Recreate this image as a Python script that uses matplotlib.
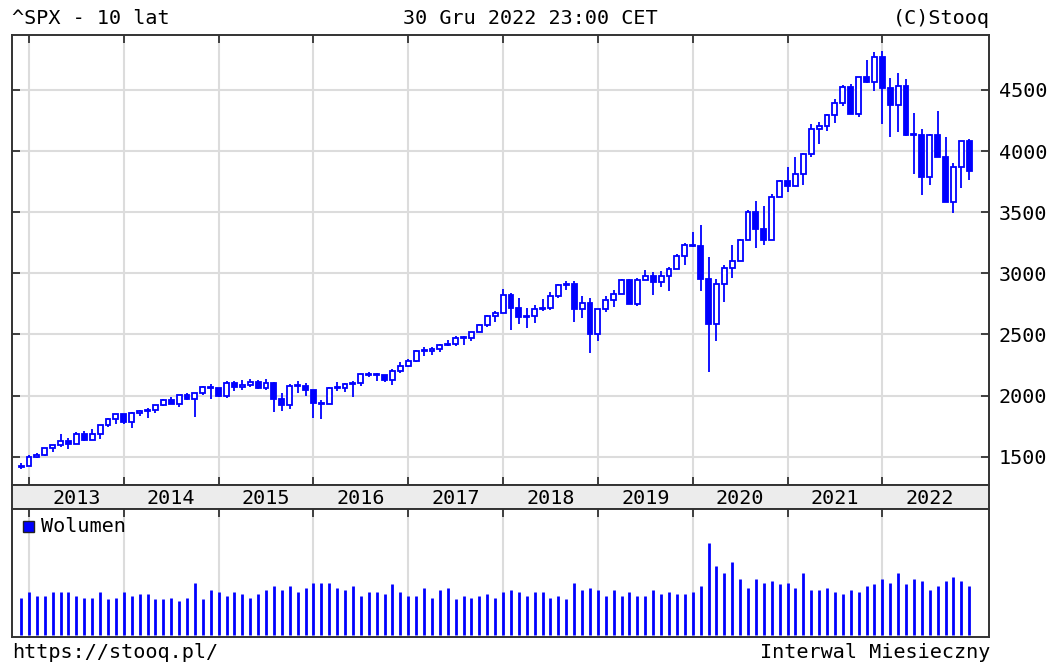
import matplotlib
matplotlib.use("Agg")
import matplotlib.pyplot as plt
import numpy as np

# monthly candles, Dec 2012 .. Dec 2022 (121 months)
opens = [1416.2,
         1426.2, 1498.1, 1514.7, 1569.2, 1597.6, 1630.7, 1606.3, 1685.7, 1633.0, 1681.6, 1756.5, 1805.8,
         1848.4, 1782.6, 1859.5, 1872.3, 1884.0, 1923.6, 1960.2, 1930.7, 2003.4, 1972.3, 2018.1, 2067.6,
         2058.9, 1995.0, 2104.5, 2067.9, 2085.5, 2107.4, 2063.1, 2103.8, 1972.2, 1920.0, 2079.4, 2080.4,
         2043.9, 1940.2, 1932.2, 2059.7, 2065.3, 2097.0, 2098.9, 2173.6, 2171.0, 2168.3, 2126.2, 2198.8,
         2238.8, 2278.9, 2363.6, 2362.7, 2384.2, 2411.8, 2423.4, 2470.3, 2471.7, 2519.4, 2575.3, 2647.6,
         2673.6, 2823.8, 2713.8, 2640.9, 2648.1, 2705.3, 2718.4, 2816.3, 2901.5, 2914.0, 2711.7, 2760.2,
         2506.9, 2704.1, 2784.5, 2834.4, 2945.8, 2752.1, 2941.8, 2980.4, 2926.5, 2976.7, 3037.6, 3141.0,
         3230.8, 3225.5, 2954.2, 2584.6, 2912.4, 3044.3, 3100.3, 3271.1, 3500.3, 3363.0, 3270.0, 3621.6,
         3756.1, 3714.2, 3811.2, 3972.9, 4181.2, 4204.1, 4297.5, 4395.3, 4522.7, 4307.5, 4605.4, 4567.0,
         4766.2, 4515.6, 4373.9, 4530.4, 4131.9, 4132.2, 3785.4, 4130.3, 3955.0, 3585.6, 3872.0, 4080.1]
highs = [1448.0,
         1509.9, 1530.9, 1570.3, 1597.6, 1687.2, 1654.2, 1698.0, 1709.7, 1729.9, 1759.8, 1813.6, 1849.4,
         1850.8, 1867.9, 1884.0, 1897.3, 1924.0, 1968.2, 1991.4, 2005.0, 2019.3, 2018.2, 2075.8, 2093.6,
         2064.4, 2119.6, 2117.5, 2125.9, 2134.7, 2129.9, 2132.8, 2112.7, 2021.0, 2094.3, 2116.5, 2104.3,
         2038.2, 1963.0, 2072.2, 2111.0, 2103.5, 2120.5, 2177.1, 2193.8, 2187.9, 2169.6, 2214.1, 2277.5,
         2301.0, 2371.5, 2401.0, 2398.2, 2418.7, 2453.8, 2484.0, 2490.9, 2519.4, 2583.0, 2657.7, 2695.0,
         2872.9, 2836.0, 2801.9, 2717.5, 2742.2, 2791.5, 2848.0, 2916.5, 2940.9, 2939.9, 2815.2, 2800.2,
         2709.0, 2813.5, 2860.3, 2949.5, 2954.1, 2964.2, 3028.0, 3013.6, 3022.0, 3050.1, 3154.3, 3247.9,
         3337.8, 3393.5, 3136.7, 2954.9, 3068.7, 3233.1, 3280.0, 3514.8, 3588.1, 3549.9, 3646.0, 3760.2,
         3870.9, 3950.4, 3983.9, 4218.8, 4238.0, 4302.4, 4430.0, 4537.4, 4545.9, 4608.1, 4743.8, 4808.9,
         4818.6, 4595.3, 4637.3, 4593.5, 4307.7, 4177.5, 4140.2, 4325.3, 4119.3, 3905.4, 4080.1, 4101.0]
lows = [1398.1,
        1426.2, 1485.0, 1501.5, 1536.0, 1581.3, 1560.3, 1604.6, 1627.5, 1633.4, 1646.5, 1746.2, 1768.0,
        1770.5, 1737.9, 1834.4, 1814.4, 1859.8, 1916.0, 1930.7, 1904.8, 1964.0, 1820.7, 2001.0, 1972.6,
        1988.4, 1980.9, 2039.7, 2048.4, 2067.9, 2056.3, 2044.0, 1867.0, 1871.9, 1893.7, 2019.4, 1993.3,
        1812.3, 1810.1, 1937.1, 2033.8, 2025.9, 1991.7, 2074.0, 2147.6, 2119.1, 2114.7, 2083.8, 2187.4,
        2233.6, 2271.7, 2322.3, 2329.0, 2352.7, 2405.7, 2407.7, 2417.4, 2446.6, 2520.4, 2557.5, 2605.5,
        2682.4, 2532.7, 2585.9, 2553.8, 2594.6, 2692.0, 2699.0, 2795.1, 2864.1, 2603.5, 2631.1, 2346.6,
        2444.0, 2681.8, 2722.3, 2848.6, 2750.5, 2728.8, 2952.2, 2822.1, 2891.9, 2855.9, 3050.7, 3070.3,
        3214.6, 2855.8, 2191.9, 2447.5, 2766.6, 2965.7, 3101.2, 3284.5, 3209.5, 3233.9, 3279.7, 3633.4,
        3662.7, 3725.6, 3723.3, 3955.3, 4056.9, 4164.4, 4233.1, 4367.7, 4305.9, 4278.9, 4560.0, 4495.1,
        4222.6, 4114.7, 4157.9, 4124.3, 3810.3, 3636.9, 3721.6, 3954.5, 3584.1, 3491.6, 3698.2, 3764.5]
closes = [1426.2,
          1498.1, 1514.7, 1569.2, 1597.6, 1630.7, 1606.3, 1685.7, 1633.0, 1681.6, 1756.5, 1805.8, 1848.4,
          1782.6, 1859.5, 1872.3, 1884.0, 1923.6, 1960.2, 1930.7, 2003.4, 1972.3, 2018.1, 2067.6, 2058.9,
          1995.0, 2104.5, 2067.9, 2085.5, 2107.4, 2063.1, 2103.8, 1972.2, 1920.0, 2079.4, 2080.4, 2043.9,
          1940.2, 1932.2, 2059.7, 2065.3, 2097.0, 2098.9, 2173.6, 2171.0, 2168.3, 2126.2, 2198.8, 2238.8,
          2278.9, 2363.6, 2362.7, 2384.2, 2411.8, 2423.4, 2470.3, 2471.7, 2519.4, 2575.3, 2647.6, 2673.6,
          2823.8, 2713.8, 2640.9, 2648.1, 2705.3, 2718.4, 2816.3, 2901.5, 2914.0, 2711.7, 2760.2, 2506.9,
          2704.1, 2784.5, 2834.4, 2945.8, 2752.1, 2941.8, 2980.4, 2926.5, 2976.7, 3037.6, 3141.0, 3230.8,
          3225.5, 2954.2, 2584.6, 2912.4, 3044.3, 3100.3, 3271.1, 3500.3, 3363.0, 3270.0, 3621.6, 3756.1,
          3714.2, 3811.2, 3972.9, 4181.2, 4204.1, 4297.5, 4395.3, 4522.7, 4307.5, 4605.4, 4567.0, 4766.2,
          4515.6, 4373.9, 4530.4, 4131.9, 4132.2, 3785.4, 4130.3, 3955.0, 3585.6, 3872.0, 4080.1, 3839.5]
# volume, relative units
volume = [37.7, 43.3, 39.7, 39.7, 43.3, 43.3, 43.3, 39.7, 37.7, 37.7, 43.3, 36.0,
          37.7, 43.3, 39.7, 41.7, 41.7, 36.0, 36.0, 37.7, 34.0, 37.7, 52.7, 36.0,
          45.0, 43.3, 39.7, 43.3, 41.7, 37.7, 41.7, 45.0, 49.0, 45.0, 49.0, 43.3,
          47.3, 52.7, 52.7, 52.7, 47.3, 45.0, 49.0, 39.7, 43.3, 43.3, 41.7, 51.0,
          43.3, 39.7, 39.7, 47.3, 37.7, 45.0, 47.3, 36.0, 39.7, 37.7, 39.7, 41.7,
          37.7, 43.3, 45.0, 43.3, 39.7, 43.3, 43.3, 37.7, 39.7, 36.0, 52.7, 45.0,
          47.3, 45.0, 39.7, 45.0, 39.7, 43.3, 39.7, 39.7, 45.0, 41.7, 43.3, 41.7,
          41.7, 43.3, 49.0, 92.3, 69.7, 62.3, 73.3, 56.7, 47.3, 56.7, 52.7, 54.7,
          51.0, 52.7, 47.3, 62.3, 45.0, 45.0, 47.3, 43.3, 41.7, 45.0, 43.3, 49.0,
          51.0, 56.7, 52.7, 62.7, 51.0, 56.7, 54.7, 45.0, 49.0, 54.7, 58.3, 54.7,
          49.0]
years = ["2013", "2014", "2015", "2016", "2017", "2018", "2019", "2020", "2021", "2022"]
price_ticks = [1500, 2000, 2500, 3000, 3500, 4000, 4500]

W, H = 1053, 664
blue = "#0000ff"
grid_c = "#dcdcdc"
spine_c = "#333333"
font = "DejaVu Sans Mono"
fs = 14.5

def fx(px):
    return px / W

def fy(py):
    return 1 - py / H

fig = plt.figure(figsize=(W / 100, H / 100), dpi=100)
ax = fig.add_axes([fx(12), fy(485), fx(989) - fx(12), fy(35) - fy(485)])
band = fig.add_axes([fx(12), fy(509), fx(989) - fx(12), fy(485) - fy(509)])
axv = fig.add_axes([fx(12), fy(637), fx(989) - fx(12), fy(509) - fy(637)])

x = np.arange(len(closes))
jan_pos = [1 + 12 * k for k in range(len(years))]
xlim = (-1.15, 122.5)

# candles
o = np.array(opens); c = np.array(closes)
up = c >= o
ax.vlines(x, lows, highs, color=blue, lw=1.3, zorder=3)
bottom = np.minimum(o, c)
height = np.maximum(np.abs(c - o), 8)
ax.bar(x[up], height[up], bottom=bottom[up], width=0.62, facecolor="white",
       edgecolor=blue, linewidth=1.3, zorder=4)
ax.bar(x[~up], height[~up], bottom=bottom[~up], width=0.62, facecolor=blue,
       edgecolor=blue, linewidth=1.3, zorder=4)

ax.set_xlim(*xlim)
ax.set_ylim(1268, 4950)
ax.set_xticks(jan_pos)
ax.set_xticklabels([])
ax.set_yticks(price_ticks)
ax.yaxis.tick_right()
ax.tick_params(axis="y", which="both", direction="in", length=6, width=1.3, color=spine_c,
               labelsize=fs, pad=7, left=True, right=True)
ax.tick_params(axis="x", direction="in", length=6, width=1.3, color=spine_c, top=True, bottom=True)
for lab in ax.get_yticklabels():
    lab.set_fontfamily(font)
ax.grid(True, color=grid_c, lw=1.5, zorder=0)
ax.set_axisbelow(True)

# date band
band.set_facecolor("#ececec")
band.set_xlim(*xlim)
band.set_ylim(0, 1)
band.set_xticks([])
band.set_yticks([])
for k, yr in enumerate(years):
    band.text(jan_pos[k] + 6, 0.45, yr, ha="center", va="center", fontsize=fs, family=font)

# volume
axv.vlines(x, 0, volume, color=blue, lw=2.0, zorder=3)
axv.set_xlim(*xlim)
axv.set_ylim(-1.5, 126)
axv.set_xticks(jan_pos)
axv.set_xticklabels([])
axv.set_yticks([])
axv.tick_params(axis="x", direction="in", length=6, width=1.3, color=spine_c, top=True, bottom=False)
axv.grid(True, axis="x", color=grid_c, lw=1.5, zorder=0)
axv.set_axisbelow(True)

for a in (ax, band, axv):
    for s in a.spines.values():
        s.set_color(spine_c)
        s.set_linewidth(1.4)

# legend for volume
fig.patches.append(plt.Rectangle((fx(23), fy(532)), 11 / W, 11 / H, transform=fig.transFigure,
                                 facecolor=blue, edgecolor="#222222", lw=1.0))
fig.text(fx(41), fy(526), "Wolumen", ha="left", va="center", fontsize=fs, family=font)

# header / footer
fig.text(fx(12), fy(19), "^SPX - 10 lat", ha="left", va="center", fontsize=fs, family=font)
fig.text(fx(530), fy(19), "30 Gru 2022 23:00 CET", ha="center", va="center", fontsize=fs, family=font)
fig.text(fx(990), fy(19), "(C)Stooq", ha="right", va="center", fontsize=fs, family=font)
fig.text(fx(12), fy(652), "https://stooq.pl/", ha="left", va="center", fontsize=fs, family=font)
fig.text(fx(990), fy(652), "Interwal Miesieczny", ha="right", va="center", fontsize=fs, family=font)

fig.savefig("out.png", dpi=100)
